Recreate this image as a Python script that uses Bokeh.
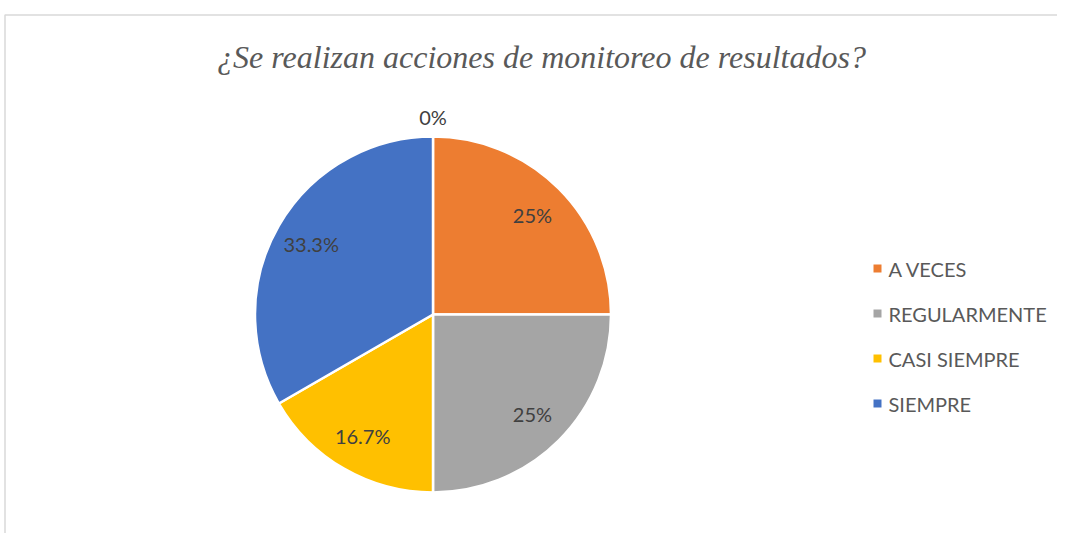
import math
from bokeh.plotting import figure
from bokeh.models import Range1d, ColumnDataSource
from bokeh.core.properties import value
from bokeh.embed import file_html
from bokeh.resources import INLINE

# ---- data ----
title_text = "¿Se realizan acciones de monitoreo de resultados?"
categories = ["NUNCA", "A VECES", "REGULARMENTE", "CASI SIEMPRE", "SIEMPRE"]
counts = [0, 3, 3, 2, 4]
labels = ["0%", "25%", "25%", "16.7%", "33.3%"]
colors = ["#5B9BD5", "#ED7D31", "#A5A5A5", "#FFC000", "#4472C4"]
legend_categories = ["A VECES", "REGULARMENTE", "CASI SIEMPRE", "SIEMPRE"]

# ---- layout (image pixel coordinates) ----
W, H = 1057, 533
def Y(py):
    return H - py

p = figure(width=W, height=H, output_backend="svg", toolbar_location=None,
           x_range=Range1d(0, W), y_range=Range1d(0, H),
           min_border=0, min_border_left=0, min_border_right=0,
           min_border_top=0, min_border_bottom=0)
p.axis.visible = False
p.grid.visible = False
p.outline_line_color = None
p.background_fill_color = "white"
p.border_fill_color = "white"

# chart border (light gray)
p.line(x=[4.5, 4.5, W + 2], y=[Y(H + 2), Y(14.5), Y(14.5)], line_color="#D9D9D9", line_width=1.5)

# title
p.text(x=[541], y=[Y(56)], text=[title_text], text_font=value("Liberation Serif"),
       text_font_style="italic", text_font_size="32px", text_color="#595959",
       text_align="center", text_baseline="middle")

# pie
cx, cy, r = 432.5, Y(314), 178
total = sum(counts)
starts, ends, lx, ly = [], [], [], []
cum = 0.0
for c in counts:
    frac = c / total
    a0 = math.pi / 2 - (cum + frac) * 2 * math.pi
    a1 = math.pi / 2 - cum * 2 * math.pi
    starts.append(a0)
    ends.append(a1)
    mid = (a0 + a1) / 2
    rr = r * 0.79 if c > 0 else r + 20
    lx.append(cx + rr * math.cos(mid))
    ly.append(cy + rr * math.sin(mid))
    cum += frac

src = ColumnDataSource(dict(cat=categories, start=starts, end=ends, color=colors,
                            lx=lx, ly=ly, label=labels, cnt=counts))
nz = [i for i, c in enumerate(counts) if c > 0]
src_nz = ColumnDataSource(dict(start=[starts[i] for i in nz], end=[ends[i] for i in nz],
                               color=[colors[i] for i in nz]))
p.wedge(x=cx, y=cy, radius=r, radius_units="screen", start_angle="start", end_angle="end",
        fill_color="color", line_color="white", line_width=2.5, source=src_nz)

p.text(x="lx", y="ly", text="label", source=src, text_font=value("Lato"),
       text_font_size="20px", text_color="#404040", text_align="center",
       text_baseline="middle")

# legend
leg_x, leg_y0, leg_dy = 877, 268, 45
leg_colors = [colors[categories.index(c)] for c in legend_categories]
leg_ys = [Y(leg_y0 + i * leg_dy) for i in range(len(legend_categories))]
p.scatter(x=[leg_x] * len(legend_categories), y=leg_ys, marker="square", size=8,
          fill_color=leg_colors, line_color=None)
p.text(x=[leg_x + 11] * len(legend_categories), y=leg_ys, text=legend_categories,
       text_font=value("Lato"), text_font_size="20px", text_color="#595959",
       text_align="left", text_baseline="middle")

open("out.html", "w").write(file_html(p, INLINE))
